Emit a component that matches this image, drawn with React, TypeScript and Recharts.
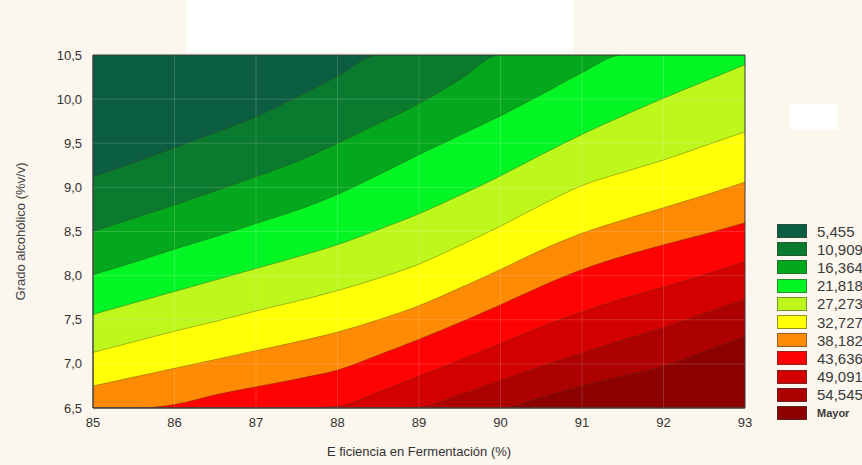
import React from 'react';
import {
  ComposedChart,
  Area,
  XAxis,
  YAxis,
  CartesianGrid,
  ReferenceArea,
  ReferenceLine,
  Legend,
} from 'recharts';

// Fermentation efficiency (%) sampled along the horizontal axis
const efficiency = [85, 85.5, 86, 86.5, 87, 87.5, 88, 88.5, 89, 89.5, 90, 90.5, 91, 91.5, 92, 92.5, 93];

// Alcohol grade (%v/v) of each contour line at the sampled efficiencies
const contour1 = [9.12, 9.28, 9.45, 9.62, 9.8, 10.02, 10.26, 10.5, 10.5, 10.5, 10.5, 10.5, 10.5, 10.5, 10.5, 10.5, 10.5];
const contour2 = [8.5, 8.65, 8.8, 8.96, 9.12, 9.29, 9.5, 9.72, 9.95, 10.22, 10.5, 10.5, 10.5, 10.5, 10.5, 10.5, 10.5];
const contour3 = [8.01, 8.15, 8.3, 8.44, 8.59, 8.74, 8.92, 9.14, 9.37, 9.59, 9.81, 10.05, 10.3, 10.5, 10.5, 10.5, 10.5];
const contour4 = [7.56, 7.69, 7.82, 7.95, 8.08, 8.21, 8.35, 8.52, 8.7, 8.91, 9.13, 9.37, 9.6, 9.81, 10.01, 10.2, 10.39];
const contour5 = [7.13, 7.25, 7.37, 7.48, 7.6, 7.71, 7.83, 7.97, 8.13, 8.34, 8.56, 8.8, 9.02, 9.17, 9.31, 9.47, 9.63];
const contour6 = [6.75, 6.85, 6.95, 7.05, 7.15, 7.25, 7.36, 7.5, 7.66, 7.86, 8.07, 8.29, 8.48, 8.63, 8.77, 8.91, 9.06];
const contour7 = [6.5, 6.5, 6.54, 6.65, 6.74, 6.83, 6.93, 7.1, 7.28, 7.47, 7.67, 7.88, 8.07, 8.22, 8.35, 8.47, 8.6];
const contour8 = [6.5, 6.5, 6.5, 6.5, 6.5, 6.5, 6.52, 6.68, 6.86, 7.04, 7.23, 7.42, 7.59, 7.74, 7.87, 8.01, 8.16];
const contour9 = [6.5, 6.5, 6.5, 6.5, 6.5, 6.5, 6.5, 6.5, 6.51, 6.65, 6.81, 6.97, 7.12, 7.27, 7.41, 7.57, 7.73];
const contour10 = [6.5, 6.5, 6.5, 6.5, 6.5, 6.5, 6.5, 6.5, 6.5, 6.5, 6.5, 6.62, 6.75, 6.86, 6.97, 7.14, 7.31];

const contours = [contour1, contour2, contour3, contour4, contour5, contour6, contour7, contour8, contour9, contour10];

// Legend levels, one per colour band
const bandLabels = ['5,455', '10,909', '16,364', '21,818', '27,273', '32,727', '38,182', '43,636', '49,091', '54,545', 'Mayor'];
const bandColors = [
  '#0c5e42',
  '#0a7a2e',
  '#03a81c',
  '#04f524',
  '#bdf71c',
  '#ffff06',
  '#ff8a03',
  '#ff0303',
  '#d30000',
  '#ad0000',
  '#8c0000',
];

const xTicks = [85, 86, 87, 88, 89, 90, 91, 92, 93];
const yTicks = [6.5, 7, 7.5, 8, 8.5, 9, 9.5, 10, 10.5];

const FONT = '"Liberation Sans", Arial, sans-serif';

const rows = efficiency.map((x, i) => {
  const row: Record<string, number> = { x };
  contours.forEach((c, k) => {
    row[`c${k + 1}`] = c[i];
  });
  return row;
});

const fmt = (v: number) => v.toFixed(1).replace('.', ',');

const renderLegend = () => (
  <div style={{ fontFamily: FONT }}>
    {bandLabels.map((label, i) => (
      <div key={label} style={{ display: 'flex', alignItems: 'center', height: 18.2 }}>
        <div
          style={{
            width: 28,
            height: 12,
            background: bandColors[i],
            border: '1px solid rgba(60,60,60,0.55)',
            marginRight: 10,
            flex: 'none',
          }}
        />
        <span
          style={{
            fontSize: label === 'Mayor' ? 11 : 15,
            fontWeight: label === 'Mayor' ? 700 : 400,
            color: '#3a3a3a',
            whiteSpace: 'nowrap',
          }}
        >
          {label}
        </span>
      </div>
    ))}
  </div>
);

export default function App() {
  return (
    <div
      style={{
        position: 'absolute',
        left: 0,
        top: 0,
        width: 862,
        height: 465,
        background: '#fbf7ee',
        overflow: 'hidden',
      }}
    >
      <div style={{ position: 'absolute', left: 186, top: 0, width: 388, height: 52, background: '#ffffff' }} />
      <div style={{ position: 'absolute', left: 790, top: 104, width: 48, height: 26, background: '#ffffff' }} />
      <ComposedChart
        width={862}
        height={465}
        data={rows}
        margin={{ top: 55, right: 117, bottom: 0, left: 0 }}
        style={{ position: 'absolute', left: 0, top: 0 }}
      >
        <CartesianGrid fill={bandColors[0]} horizontal={false} vertical={false} />
        <XAxis
          dataKey="x"
          type="number"
          domain={[85, 93]}
          ticks={xTicks}
          allowDataOverflow
          height={57}
          tickLine={false}
          tickSize={6}
          tickMargin={4}
          axisLine={{ stroke: '#444' }}
          tick={{ fill: '#333', fontSize: 13, fontFamily: FONT }}
          label={{
            value: 'E ficiencia en Fermentación (%)',
            position: 'insideBottom',
            offset: 9,
            fill: '#333',
            fontSize: 13,
            fontFamily: FONT,
          }}
        />
        <YAxis
          type="number"
          domain={[6.5, 10.5]}
          ticks={yTicks}
          allowDataOverflow
          width={93}
          tickLine={false}
          tickSize={6}
          tickMargin={5}
          tickFormatter={fmt}
          axisLine={{ stroke: '#444' }}
          tick={{ fill: '#333', fontSize: 13, fontFamily: FONT }}
          label={{
            value: 'Grado alcohólico (%v/v)',
            angle: -90,
            position: 'insideLeft',
            offset: 20,
            fill: '#444',
            fontSize: 13,
            fontFamily: FONT,
            style: { textAnchor: 'middle' },
          }}
        />
        {contours.map((_, k) => (
          <Area
            key={`c${k + 1}`}
            dataKey={`c${k + 1}`}
            type="monotone"
            baseValue="dataMin"
            fill={bandColors[k + 1]}
            fillOpacity={1}
            stroke="#3b3b1c"
            strokeOpacity={0.45}
            strokeWidth={0.8}
            dot={false}
            activeDot={false}
            isAnimationActive={false}
          />
        ))}
        {xTicks.slice(1, -1).map((t) => (
          <ReferenceLine key={`vx${t}`} x={t} stroke="rgba(255,255,255,0.16)" strokeWidth={1} />
        ))}
        {yTicks.slice(1, -1).map((t) => (
          <ReferenceLine key={`hy${t}`} y={t} stroke="rgba(255,255,255,0.16)" strokeWidth={1} />
        ))}
        <ReferenceArea x1={85} x2={93} y1={6.5} y2={10.5} fill="none" stroke="#3a3a3a" strokeWidth={1} />
        <Legend
          layout="vertical"
          align="center"
          verticalAlign="middle"
          content={renderLegend}
          wrapperStyle={{ left: 777, top: 222, width: 100 }}
        />
      </ComposedChart>
    </div>
  );
}
